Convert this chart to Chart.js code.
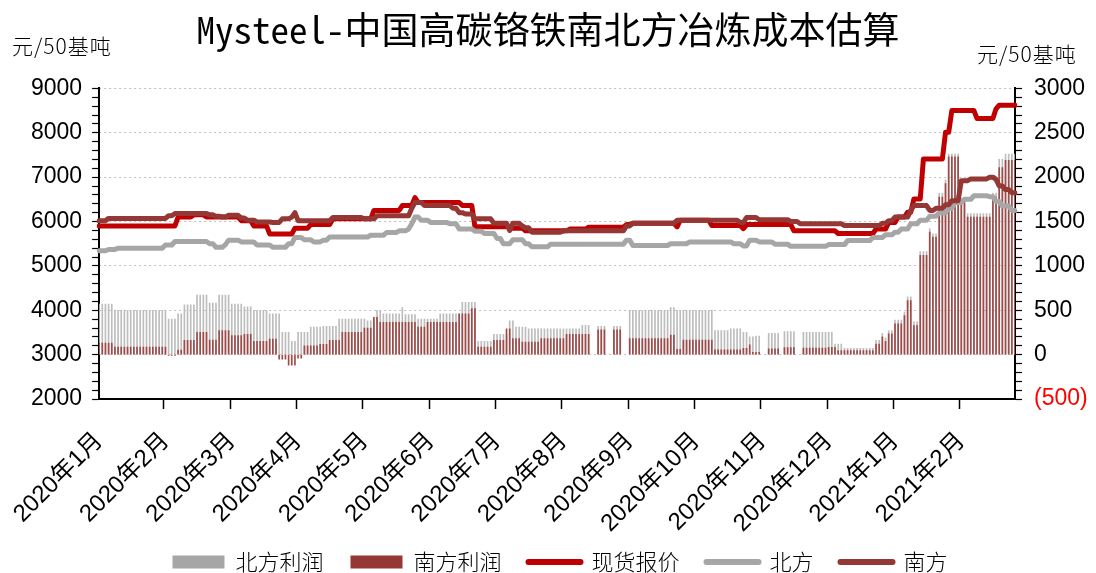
<!DOCTYPE html>
<html>
<head>
<meta charset="utf-8">
<script src="https://cdn.jsdelivr.net/npm/chart.js@4.4.1/dist/chart.umd.min.js"></script>
<style>
html,body{margin:0;padding:0;background:#fff;}
canvas{display:block;}
</style>
</head>
<body>
<canvas id="c" width="1096" height="573"></canvas>
<script>
// ---- categories / tick labels ----
const monthLabels = ['2020年1月','2020年2月','2020年3月','2020年4月','2020年5月','2020年6月','2020年7月',
  '2020年8月','2020年9月','2020年10月','2020年11月','2020年12月','2021年1月','2021年2月'];
const SLOTS_PER_MONTH = 21;   // trading-day slots per month on the category axis
const leftAxisRange = [2000, 9000];
const rightAxisRange = [-500, 3000];

// ---- 现货报价 (元/50基吨) ----
const spotPrice = [
  5900,5900,5900,5900,5900,5900,5900,5900,5900,5900,5900,5900,5900,5900,5900,5900,5900,5900,5900,5900,5900,
  5900,5900,5900,5900,6100,6100,6100,6100,6100,6150,6150,6150,6150,6100,6100,6100,6100,6100,6100,6100,6100,
  6100,6100,6100,6020,6020,6020,6020,5900,5900,5900,5900,5900,5720,5720,5720,5720,5720,5720,5720,5720,5850,
  5850,5850,5850,5850,5930,5930,5930,5930,5930,5930,5930,6060,6060,6060,6060,6060,6060,6060,6060,6060,6060,
  6060,6060,6060,6250,6250,6250,6250,6250,6250,6250,6250,6250,6360,6360,6360,6360,6540,6430,6430,6430,6430,
  6430,6430,6430,6430,6430,6430,6430,6430,6430,6430,6360,6360,6360,6360,5880,5880,5880,5880,5880,5880,5880,
  5880,5880,5880,5880,5880,5850,5850,5850,5850,5790,5790,5790,5790,5790,5790,5790,5790,5790,5790,5790,5790,
  5790,5790,5830,5830,5830,5830,5830,5830,5870,5870,5870,5870,5870,5870,5870,5870,5870,5870,5870,5870,5930,
  5930,5960,5960,5960,5960,5960,5960,5960,5960,5960,5960,5960,5960,5960,5960,5880,6030,6030,6030,6030,6030,
  6030,6030,6030,6030,6030,5910,5910,5910,5910,5910,5910,5910,5910,5910,5910,5840,5930,5930,5930,5930,5930,
  5930,5930,5930,5930,5930,5930,5930,5930,5930,5930,5790,5790,5790,5790,5790,5790,5790,5790,5790,5790,5790,
  5790,5790,5790,5730,5730,5730,5730,5730,5730,5730,5730,5730,5730,5730,5730,5830,5830,5830,5830,5980,5980,
  5980,6100,6100,6100,6210,6210,6510,6510,6510,7410,7410,7410,7410,7410,7410,7410,8010,8010,8500,8500,8500,
  8500,8500,8500,8500,8500,8320,8320,8320,8320,8320,8320,8540,8620,8620,8620,8620,8620,8620
];

// ---- 北方 成本 ----
const northCost = [
  5340,5340,5340,5370,5370,5370,5400,5400,5400,5400,5400,5400,5400,5400,5400,5400,5400,5400,5400,5400,5400,
  5470,5470,5470,5550,5550,5550,5550,5550,5550,5550,5550,5550,5550,5550,5500,5500,5420,5420,5420,5480,5580,
  5580,5580,5580,5540,5540,5540,5540,5540,5470,5470,5470,5470,5470,5420,5420,5420,5420,5420,5500,5500,5640,
  5640,5640,5590,5590,5590,5540,5540,5540,5580,5580,5650,5650,5650,5650,5650,5650,5650,5650,5650,5650,5650,
  5650,5650,5690,5690,5690,5690,5690,5750,5750,5750,5750,5790,5790,5790,5830,5950,6100,6100,6030,6030,6030,
  5980,5980,5980,5980,5980,5980,5950,5950,5950,5830,5830,5830,5830,5830,5780,5780,5780,5730,5730,5730,5730,
  5620,5620,5500,5500,5500,5590,5590,5590,5590,5500,5500,5430,5430,5430,5430,5430,5430,5490,5490,5490,5490,
  5490,5490,5490,5490,5490,5490,5490,5490,5490,5490,5490,5490,5490,5490,5490,5490,5490,5490,5490,5490,5580,
  5580,5460,5460,5460,5460,5460,5460,5460,5460,5460,5460,5460,5460,5500,5500,5500,5500,5500,5500,5540,5540,
  5540,5540,5540,5540,5540,5540,5540,5540,5540,5540,5540,5540,5500,5500,5500,5450,5450,5580,5580,5580,5540,
  5540,5540,5540,5540,5490,5490,5490,5490,5490,5440,5440,5440,5440,5440,5440,5440,5440,5440,5440,5440,5440,
  5480,5480,5480,5480,5480,5480,5570,5570,5570,5570,5570,5570,5570,5570,5640,5640,5640,5640,5700,5700,5700,
  5760,5760,5830,5830,5830,5950,5950,5950,6030,6030,6030,6120,6120,6120,6200,6200,6200,6300,6300,6430,6430,
  6430,6500,6500,6500,6580,6580,6580,6580,6580,6560,6560,6450,6450,6350,6350,6350,6250,6250
];

// ---- 南方 成本 ----
const southCost = [
  6020,6020,6020,6070,6070,6070,6070,6070,6070,6070,6070,6070,6070,6070,6070,6070,6070,6070,6070,6070,6070,
  6070,6130,6130,6180,6180,6180,6180,6180,6180,6180,6180,6180,6180,6180,6150,6150,6120,6120,6100,6100,6140,
  6140,6140,6140,6080,6080,6030,6030,6030,5990,5990,5990,5990,5990,5980,5980,5980,6060,6060,6060,6100,6200,
  6020,6020,6020,6020,6020,6020,6020,6020,6020,6020,6020,6090,6090,6090,6090,6090,6090,6090,6090,6090,6090,
  6060,6060,6060,6060,6130,6130,6130,6130,6130,6130,6130,6130,6130,6130,6130,6300,6430,6430,6430,6360,6360,
  6360,6360,6360,6360,6360,6360,6360,6300,6300,6200,6200,6170,6170,6170,6060,6060,6060,6060,6060,6060,5960,
  5960,5960,5960,5960,5800,5960,5960,5960,5900,5860,5860,5760,5760,5760,5760,5760,5760,5760,5760,5760,5760,
  5790,5790,5790,5790,5790,5790,5790,5790,5790,5790,5790,5790,5790,5790,5790,5790,5790,5790,5790,5790,5900,
  5900,5960,5960,5960,5960,5960,5960,5960,5960,5960,5960,5960,5960,5960,5960,6030,6030,6030,6030,6030,6030,
  6030,6030,6030,6030,6030,6030,6030,6030,6030,6030,6030,6030,6030,6030,5980,5980,6090,6090,6090,6090,6040,
  6040,6040,6040,6040,6040,6040,6040,6040,6040,6000,6000,6000,5950,5950,5950,5950,5950,5950,5950,5950,5950,
  5950,5950,5950,5950,5950,5910,5910,5910,5910,5910,5910,5910,5910,5910,5910,5910,5910,5960,5960,6020,6020,
  6100,6100,6100,6100,6100,6250,6360,6360,6360,6360,6360,6250,6250,6300,6300,6300,6380,6380,6470,6470,6470,
  6920,6920,6920,6960,6960,6960,6960,6960,6960,7000,7000,6950,6800,6800,6720,6720,6650,6650
];

// ---- 北方利润 (right axis) ----
const northProfit = [
  570,570,570,570,570,500,500,500,500,500,500,500,500,500,500,500,500,500,500,500,500,
  500,400,400,400,460,460,560,560,560,560,670,670,670,670,580,580,580,670,670,670,670,
  570,570,570,570,540,540,540,500,500,500,500,500,460,460,460,460,250,250,250,150,150,
  250,250,250,250,310,310,310,310,320,320,320,320,320,400,400,400,400,400,400,400,400,
  400,380,380,380,500,500,460,460,460,460,460,460,530,450,450,450,450,400,400,400,400,
  400,400,400,460,460,460,460,460,460,460,590,590,590,590,590,150,150,150,150,150,230,
  230,230,230,230,380,380,310,310,310,310,290,290,290,290,290,290,290,290,290,290,290,
  290,290,290,290,290,290,330,330,330,null,null,320,320,320,null,null,320,320,320,null,null,
  500,500,500,500,500,500,500,500,500,500,500,500,500,530,530,500,500,500,500,500,500,
  500,500,500,500,500,500,270,270,270,270,270,290,290,290,290,250,250,200,200,210,210,
  null,null,240,240,240,240,null,260,260,260,260,null,null,250,250,250,250,250,250,250,250,
  250,250,120,120,120,70,70,70,70,70,70,70,70,70,70,160,160,240,190,270,270,
  390,390,390,480,650,650,370,370,1160,1160,1160,1420,1360,1360,1820,1820,1970,2260,2260,2260,2260,
  1760,1760,1590,1590,1590,1590,1590,1590,1590,1590,1820,1820,2200,2200,2260,2260,2260,2260
];

// ---- 南方利润 (right axis) ----
const southProfit = [
  130,130,130,130,130,85,85,85,85,85,85,85,85,85,85,85,85,85,85,85,85,
  85,-10,-10,-10,50,50,160,160,160,160,250,250,250,250,165,165,165,270,270,270,270,
  215,215,215,215,230,230,230,150,150,150,150,150,175,175,175,-50,-50,-50,-120,-120,-120,
  -40,-40,100,100,100,100,100,115,115,115,160,160,160,160,250,250,250,250,250,250,250,
  300,300,300,420,420,365,365,365,365,365,365,365,365,365,365,365,365,310,310,310,365,
  365,365,365,365,365,365,365,365,365,460,460,460,460,520,520,85,85,85,85,85,160,
  160,160,160,290,290,180,180,180,140,140,140,140,140,140,180,180,180,180,180,180,180,
  180,230,230,230,230,230,230,230,230,null,null,280,280,280,null,null,280,280,280,null,null,
  180,180,180,180,180,180,180,180,180,180,180,180,180,220,220,60,60,165,165,165,165,
  165,165,165,165,165,165,55,55,55,55,55,55,55,55,55,70,70,110,25,25,25,
  null,null,65,65,65,65,null,80,80,80,80,null,null,75,75,75,75,75,75,75,75,
  83,83,83,45,45,45,45,45,45,45,45,45,45,45,45,120,120,200,150,233,233,
  346,346,346,440,610,610,327,327,1118,1118,1118,1381,1324,1324,1776,1776,1927,2228,2228,2228,2228,
  1719,1719,1550,1550,1550,1550,1550,1550,1550,1550,1776,1776,2108,2108,2190,2190,2190,2190
];

const categories = spotPrice.map((_, i) =>
  i % SLOTS_PER_MONTH === 0 ? (monthLabels[i / SLOTS_PER_MONTH] || '') : '');

const COLORS = { spot: '#C00000', north: '#A6A6A6', south: '#953735',
                 northBar: '#BDBDBD', southBar: '#A04A48' };
const NUM_FONT = '"Liberation Sans", "Noto Sans CJK SC", sans-serif';
const CJK_FONT = '"Noto Sans CJK SC", sans-serif';
const LEGEND_HEIGHT = 40;
const LEGEND_TOP = 524;     // legend rows start here (items centre ≈ 562)

const unitLabels = {
  id: 'unitLabels',
  afterDraw(chart) {
    const ctx = chart.ctx;
    ctx.save();
    ctx.font = '300 21px ' + CJK_FONT;
    try { ctx.letterSpacing = '1px'; } catch (e) {}
    ctx.fillStyle = '#000';
    ctx.textBaseline = 'middle';
    ctx.textAlign = 'left';
    ctx.fillText('元/50基吨', 12, 46);
    ctx.fillText('元/50基吨', 977, 54);
    ctx.restore();
  }
};

// give the rotated month labels room, then place the legend block like the reference
const legendTweak = {
  id: 'legendTweak',
  beforeLayout(chart) {
    const lg = chart.legend;
    if (lg && !lg._fitPatched) {
      const origFit = lg.fit.bind(lg);
      lg.fit = function () { origFit(); this.height = LEGEND_HEIGHT; };
      lg._fitPatched = true;
    }
  },
  afterLayout(chart) {
    const lg = chart.legend;
    if (!lg) return;
    lg.left += 12; lg.right += 12;
    lg.top = LEGEND_TOP; lg.bottom = chart.height; lg.height = lg.bottom - lg.top;
  }
};

const lineDs = (label, data, color, order) => ({
  type: 'line', label, data, yAxisID: 'y', borderColor: color, backgroundColor: color,
  borderWidth: 5, pointRadius: 0, pointHoverRadius: 0, tension: 0,
  borderJoinStyle: 'round', borderCapStyle: 'round', order, legendColor: color
});

new Chart(document.getElementById('c'), {
  type: 'bar',
  data: {
    labels: categories,
    datasets: [
      { type: 'bar', label: '北方利润', data: northProfit, yAxisID: 'y2', backgroundColor: COLORS.northBar,
        legendColor: COLORS.north, barThickness: 1, grouped: false, order: 5 },
      { type: 'bar', label: '南方利润', data: southProfit, yAxisID: 'y2', backgroundColor: COLORS.southBar,
        legendColor: COLORS.south, barThickness: 1, grouped: false, order: 4 },
      lineDs('现货报价', spotPrice, COLORS.spot, 3),
      lineDs('北方', northCost, COLORS.north, 2),
      lineDs('南方', southCost, COLORS.south, 1)
    ]
  },
  options: {
    responsive: false,
    animation: false,
    devicePixelRatio: 1,
    layout: { padding: 0 },
    plugins: {
      tooltip: { enabled: false },
      title: {
        display: true,
        text: 'Mysteel-中国高碳铬铁南北方冶炼成本估算',
        color: '#000',
        font: { size: 37, family: '"Noto Sans Mono CJK SC", "Noto Sans CJK SC", sans-serif', weight: 'normal' },
        padding: { top: 8, bottom: 36 }
      },
      legend: {
        position: 'bottom',
        labels: {
          usePointStyle: true,
          pointStyleWidth: 52,
          boxHeight: 13,
          padding: 27,
          color: '#000',
          font: { size: 22, family: CJK_FONT, weight: 300 },
          generateLabels: (chart) => chart.data.datasets.map((ds, i) => {
            const isBar = ds.type === 'bar';
            const c = ds.legendColor;
            return { text: ds.label, datasetIndex: i, fillStyle: c, strokeStyle: c,
              lineWidth: isBar ? 0 : 6, lineCap: 'round', pointStyle: isBar ? 'rect' : 'line',
              hidden: false, fontColor: '#000' };
          })
        }
      }
    },
    scales: {
      x: {
        type: 'category',
        offset: false,
        grid: {
          display: true, drawOnChartArea: false, drawTicks: true, tickLength: 10, tickWidth: 1.5,
          tickColor: (c) => (c.tick && c.tick.label) ? '#000' : 'rgba(0,0,0,0)'
        },
        border: { display: true, color: '#000', width: 2 },
        ticks: {
          autoSkip: false, maxRotation: 45, minRotation: 45, padding: 18, color: '#000',
          font: { size: 24, family: NUM_FONT }
        },
        afterFit: (s) => { s.height = 573 - 399 - LEGEND_HEIGHT; }
      },
      y: {
        type: 'linear', position: 'left',
        min: leftAxisRange[0], max: leftAxisRange[1],
        grid: { display: true, drawOnChartArea: false, tickLength: 7, tickColor: '#000', tickWidth: 1.2 },
        border: { display: true, color: '#000', width: 2 },
        ticks: {
          stepSize: 200, autoSkip: false, padding: 10, color: '#000',
          font: { size: 23, family: NUM_FONT },
          callback: (v) => (v % 1000 === 0 ? String(v) : '')
        },
        afterFit: (s) => { s.width = 98; }
      },
      y2: {
        type: 'linear', position: 'right',
        min: rightAxisRange[0], max: rightAxisRange[1],
        grid: {
          display: true, drawOnChartArea: true, tickLength: 7, tickColor: '#000', tickWidth: 1.2, lineWidth: 1,
          color: (c) => (c.tick && c.tick.value % 500 === 0 && c.tick.value > rightAxisRange[0]) ? '#BFBFBF' : 'rgba(0,0,0,0)'
        },
        border: { display: true, color: '#000', width: 2, dash: [2, 3] },
        ticks: {
          stepSize: 100, autoSkip: false, padding: 12,
          font: { size: 23, family: NUM_FONT },
          color: (c) => (c.tick && c.tick.value < 0) ? '#FF0000' : '#000',
          callback: (v) => (v % 500 !== 0 ? '' : (v < 0 ? '(' + Math.abs(v) + ')' : String(v)))
        },
        afterFit: (s) => { s.width = 81; }
      }
    }
  },
  plugins: [unitLabels, legendTweak]
});
</script>
</body>
</html>
